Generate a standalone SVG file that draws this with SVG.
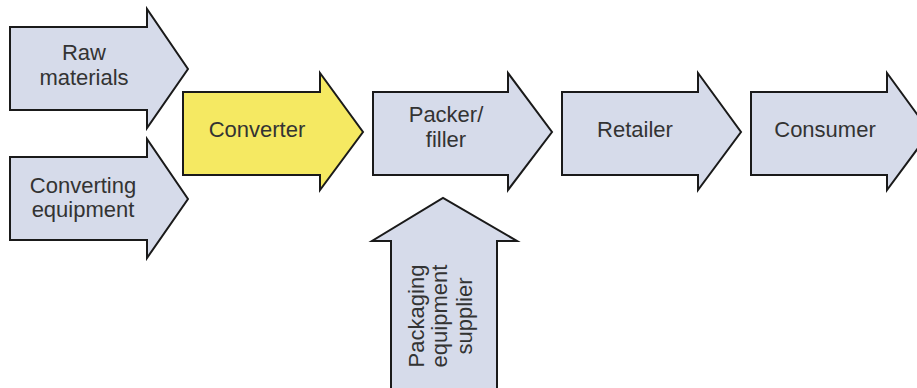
<svg xmlns="http://www.w3.org/2000/svg" width="917" height="388" viewBox="0 0 917 388">
<style>
.a{fill:#d6dbea;stroke:#1a1a1a;stroke-width:2;stroke-linejoin:miter}
.y{fill:#f5e962}
.t{font-family:"Liberation Sans",Arial,sans-serif;font-size:22px;fill:#333;text-anchor:middle}
</style>
<rect width="917" height="388" fill="#fff"/>
<g id="raw-materials">
<polygon class="a" points="10,27 147,27 147,9 188,69 147,128 147,110 10,110"/>
<text class="t" x="84" y="60">Raw</text>
<text class="t" x="84" y="85">materials</text>
</g>
<g id="converting-equipment">
<polygon class="a" points="10,157 147,157 147,139 188,199 147,258 147,240 10,240"/>
<text class="t" x="83" y="193">Converting</text>
<text class="t" x="83" y="217">equipment</text>
</g>
<g id="converter">
<polygon class="a y" points="183,92 320,92 320,73 363,132 320,190 320,175 183,175"/>
<text class="t" x="257" y="137">Converter</text>
</g>
<g id="packer-filler">
<polygon class="a" points="373,92 508,92 508,73 552,132 508,190 508,175 373,175"/>
<text class="t" x="446" y="122">Packer/</text>
<text class="t" x="446" y="147">filler</text>
</g>
<g id="retailer">
<polygon class="a" points="562,92 698,92 698,73 741,132 698,190 698,175 562,175"/>
<text class="t" x="635" y="137">Retailer</text>
</g>
<g id="consumer">
<polygon class="a" points="751,92 887,92 887,73 930,132 887,190 887,175 751,175"/>
<text class="t" x="825" y="137">Consumer</text>
</g>
<g id="packaging-equipment-supplier">
<polygon class="a" points="391,400 391,241 372,241 443,198 517,241 497,241 497,400"/>
<g transform="translate(443,316) rotate(-90)">
<text class="t" x="0" y="-19">Packaging</text>
<text class="t" x="0" y="4">equipment</text>
<text class="t" x="0" y="29">supplier</text>
</g>
</g>
<g id="connectors"></g>
</svg>
